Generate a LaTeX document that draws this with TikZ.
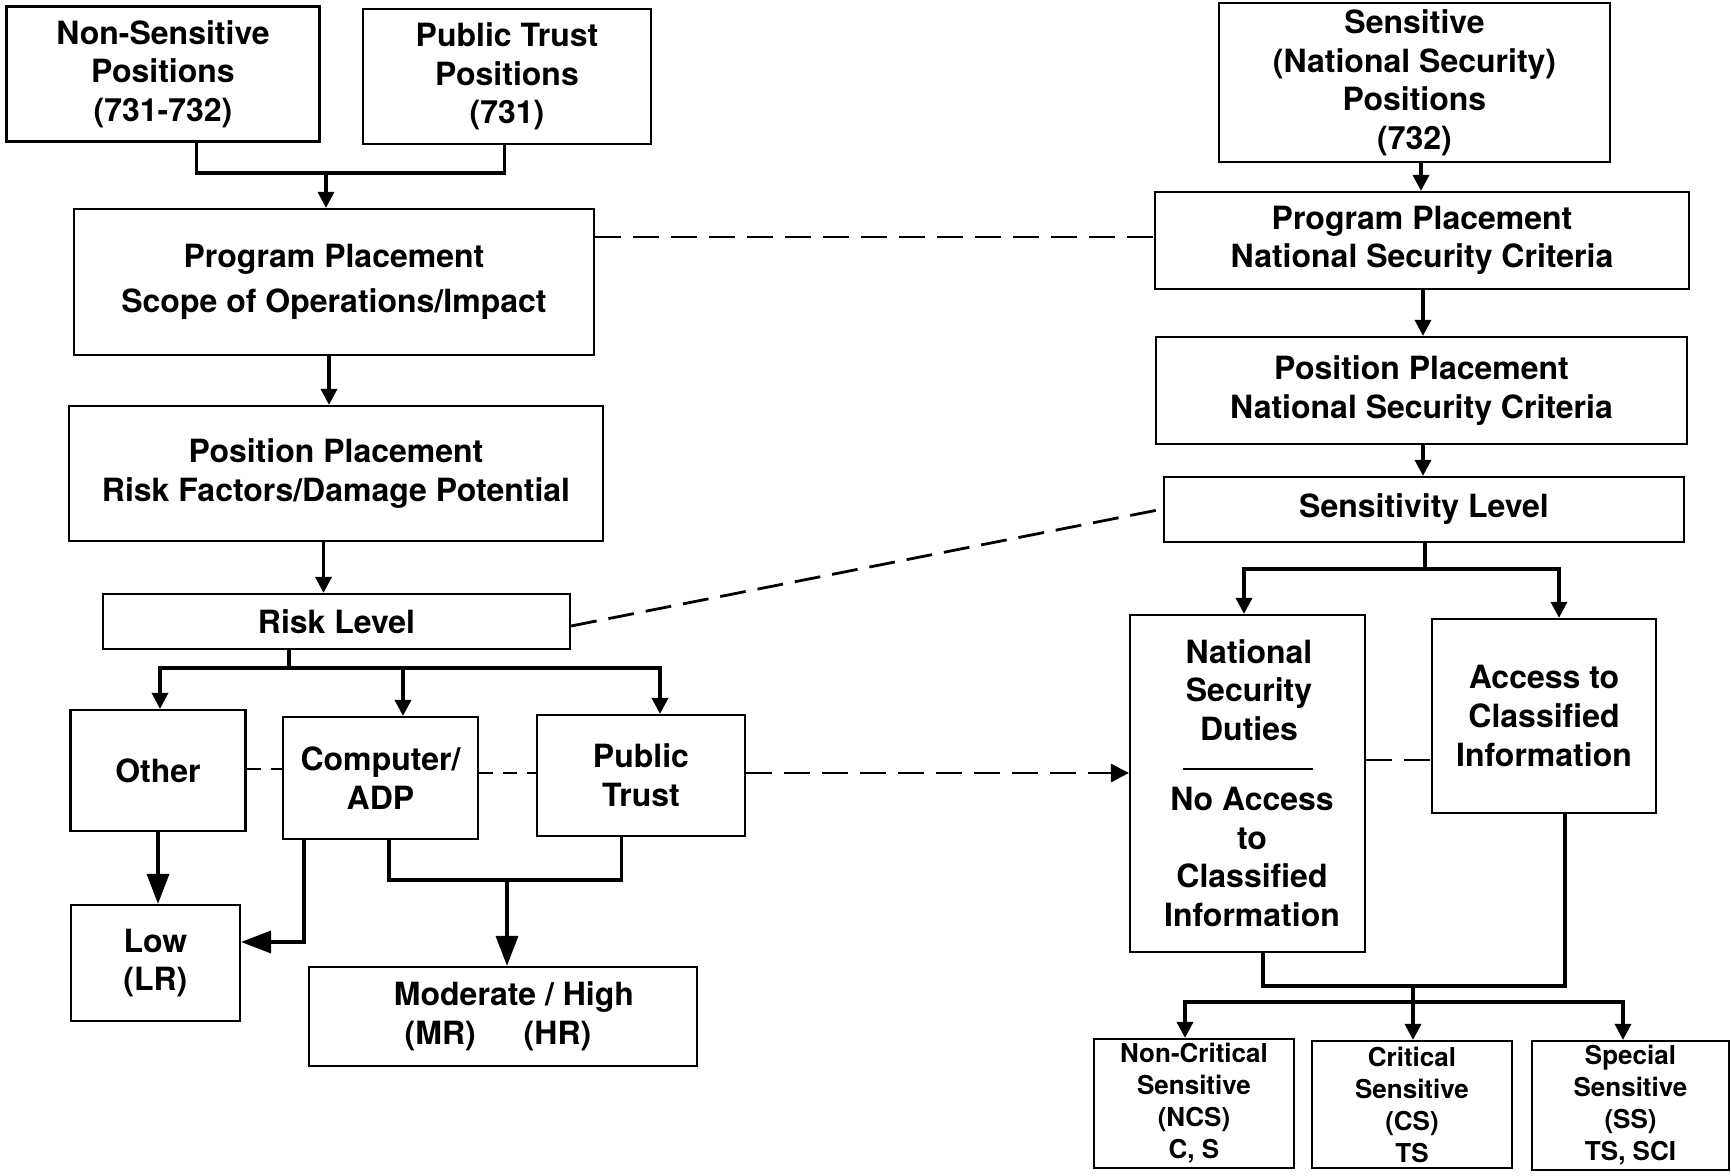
\documentclass[tikz,border=0pt]{standalone}
\usepackage{fontspec}
\setmainfont{TeX Gyre Heros}
\usetikzlibrary{arrows.meta}
\newcommand\dgmfont{\fontsize{16}{19.3}\selectfont\bfseries}
\newcommand\dgmsmall{\fontsize{13}{16}\selectfont\bfseries}
\begin{document}
\begin{tikzpicture}[x=0.5pt,y=-0.5pt,
  box/.style={draw, line width=1.1pt, inner sep=0pt, align=center, font=\dgmfont},
  sbox/.style={draw, line width=1.1pt, inner sep=0pt, align=center, font=\dgmsmall},
  txt/.style={inner sep=0pt, align=center, font=\dgmfont},
  conn/.style={line width=1.7pt},
  arr/.style={line width=1.7pt, -{Triangle[length=8pt,width=8pt]}},
  bigarr/.style={line width=1.7pt, -{Triangle[length=15pt,width=11pt]}},
  dashL/.style={line width=1.4pt, dash pattern=on 13pt off 6pt},
  dashS/.style={line width=1.4pt, dash pattern=on 7pt off 5pt}]
\useasboundingbox (0,0) rectangle (1731,1176);

% ---------- left column ----------
\node[box, minimum width=156.5pt, minimum height=67.5pt] (ns) at (163,74) {Non-Sensitive\\Positions\\(731-732)};
\node[box, minimum width=144pt, minimum height=67.5pt] (pt) at (507,76.5) {Public Trust\\Positions\\(731)};
\node[box, minimum width=260pt, minimum height=73pt] (pp1) at (334,282) {Program Placement\\[3pt]Scope of Operations/Impact};
\node[box, minimum width=266.75pt, minimum height=67.5pt] (pos1) at (336,473.5) {Position Placement\\Risk Factors/Damage Potential};
\node[box, minimum width=233.5pt, minimum height=27.5pt] (risk) at (336.5,621.5) {Risk Level};
\node[box, minimum width=87.5pt, minimum height=60.5pt] (other) at (158,770.5) {Other};
\node[box, minimum width=97.5pt, minimum height=61pt] (comp) at (380.5,778) {Computer/\\ADP};
\node[box, minimum width=104pt, minimum height=60.5pt] (ptr) at (641,775.5) {Public\\Trust};
\node[box, minimum width=84.5pt, minimum height=58pt] (low) at (155.4,963) {Low\\(LR)};
\node[box, minimum width=194pt, minimum height=49.5pt] (mod) at (503,1016.5) {\hspace*{11pt}Moderate / High\\(MR)\hspace{24pt}(HR)\hspace*{5pt}};

% ---------- right column ----------
\node[box, minimum width=195.5pt, minimum height=79.5pt] (sens) at (1414.5,82.7) {Sensitive\\(National Security)\\Positions\\(732)};
\node[box, minimum width=267pt, minimum height=48.5pt] (pp2) at (1422,240.5) {Program Placement\\National Security Criteria};
\node[box, minimum width=265.5pt, minimum height=53.5pt] (pos2) at (1421.5,390.5) {Position Placement\\National Security Criteria};
\node[box, minimum width=260pt, minimum height=32.5pt] (sl) at (1424,509.5) {Sensitivity Level};
\node[box, minimum width=117.5pt, minimum height=168.5pt] (nsd) at (1247.5,783.5) {};
\node[txt] (nsdtop) at (1249,690) {National\\Security\\Duties};
\node[txt] (nsdbot) at (1252,857) {No Access\\to\\Classified\\Information};
\coordinate (s1) at (1183,769);
\coordinate (s2) at (1313,769);
\draw[line width=1.1pt] (s1) -- (s2);
\node[box, minimum width=112pt, minimum height=97pt] (acc) at (1544,716) {Access to\\Classified\\Information};
\node[sbox, minimum width=100pt, minimum height=64.5pt] (ncs) at (1194,1103.5) {Non-Critical\\Sensitive\\(NCS)\\C, S};
\node[sbox, minimum width=100pt, minimum height=63.5pt] (cs) at (1412,1104.5) {Critical\\Sensitive\\(CS)\\TS};
\node[sbox, minimum width=98.5pt, minimum height=64.5pt] (ss) at (1630.5,1105.5) {Special\\Sensitive\\(SS)\\TS, SCI};

% ---------- left connectors ----------
\coordinate (a1) at (196.5,173);
\coordinate (a2) at (504.5,173);
\coordinate (a3) at (326,173);
\draw[conn] (ns.south -| a1) -- (a1) -- (a2) -- (pt.south -| a2);
\draw[arr] (a3) -- (pp1.north -| a3);
\draw[arr] (pp1.south -| 329,0) -- (pos1.north -| 329,0);
\draw[arr] (pos1.south -| 323.5,0) -- (risk.north -| 323.5,0);

\coordinate (b0) at (289,668);
\coordinate (b1) at (160,668);
\coordinate (b2) at (403,668);
\coordinate (b3) at (660,668);
\draw[conn] (risk.south -| b0) -- (b0);
\draw[arr] (b3) -- (b1) -- (other.north -| b1);
\draw[arr] (b1) -- (b3) -- (ptr.north -| b3);
\draw[arr] (b2) -- (comp.north -| b2);

\draw[bigarr] (other.south) -- (other.south |- low.north);
\coordinate (c1) at (304,942);
\draw[bigarr] (comp.south -| c1) -- (c1) -- (low.east |- c1);
\coordinate (d1) at (389,880);
\coordinate (d2) at (621.5,880);
\coordinate (d3) at (507,880);
\draw[conn] (comp.south -| d1) -- (d1) -- (d2) -- (ptr.south -| d2);
\draw[bigarr] (d3) -- (mod.north -| d3);

% ---------- dashed links ----------
\draw[dashS] (other.east |- 0,769) -- (comp.west |- 0,769);
\draw[dashS] (comp.east |- 0,773) -- (ptr.west |- 0,773);
\draw[dashL, -{Triangle[length=9pt,width=9pt]}] (ptr.east |- 0,773) -- (nsd.west |- 0,773);
\draw[dashL] (pp1.east |- 0,237) -- (pp2.west |- 0,237);
\draw[dashL] (risk.east |- 0,626) -- (sl.west |- 0,509);
\draw[dashL] (nsd.east |- 0,760) -- (acc.west |- 0,760);

% ---------- right connectors ----------
\draw[arr] (sens.south -| 1421,0) -- (pp2.north -| 1421,0);
\draw[arr] (pp2.south -| 1423,0) -- (pos2.north -| 1423,0);
\draw[arr] (pos2.south -| 1423,0) -- (sl.north -| 1423,0);

\coordinate (e0) at (1425,569);
\coordinate (e1) at (1244,569);
\coordinate (e2) at (1559,569);
\draw[conn] (sl.south -| e0) -- (e0);
\draw[arr] (e2) -- (e1) -- (nsd.north -| e1);
\draw[arr] (e1) -- (e2) -- (acc.north -| e2);

\coordinate (f0) at (1413,986);
\coordinate (f1) at (1263,986);
\coordinate (f2) at (1565,986);
\coordinate (g1) at (1185,1002);
\coordinate (g3) at (1623,1002);
\draw[conn] (nsd.south -| f1) -- (f1) -- (f2) -- (acc.south -| f2);
\draw[arr] (g3) -- (g1) -- (ncs.north -| g1);
\draw[arr] (g1) -- (g3) -- (ss.north -| g3);
\draw[arr] (f0) -- (cs.north -| f0);
\end{tikzpicture}
\end{document}
